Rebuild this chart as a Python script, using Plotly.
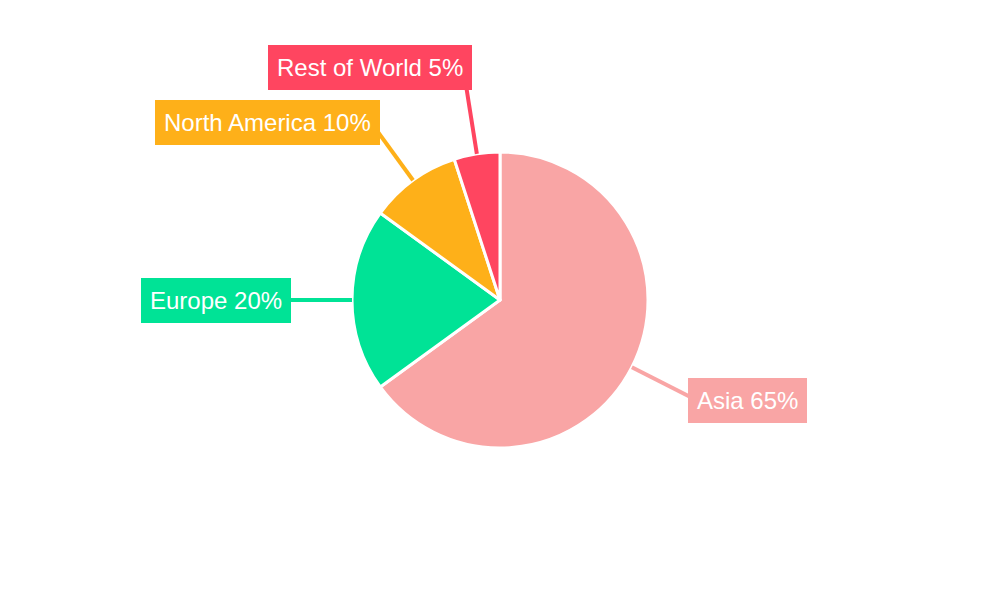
import math
import plotly.graph_objects as go

# ---- data ----
regions = ["Asia", "Europe", "North America", "Rest of World"]
shares = [65, 20, 10, 5]
colors = ["#F9A5A5", "#00E396", "#FEB019", "#FF4560"]

W, H = 1000, 600
OFF = 8          # page body margin offset
CX, CY, R = 500 - OFF, 300 - OFF, 148
R_END = 222      # leader line outer radius
R_LBL = 215      # label anchor radius
label_yshift = [-2.4, 0, 4, 20]

fig = go.Figure(go.Pie(
    labels=regions,
    values=shares,
    sort=False,
    direction="clockwise",
    rotation=0,
    marker=dict(colors=colors, line=dict(color="white", width=3)),
    textinfo="none",
    hoverinfo="label+percent",
    showlegend=False,
    domain=dict(x=[0, 2 * CX / W], y=[1 - (CY + R) / H, 1 - (CY - R) / H]),
))

total = sum(shares)
cum = 0
shapes = []
annotations = []
for i, (name, v, c) in enumerate(zip(regions, shares, colors)):
    mid = (cum + v / 2) / total * 2 * math.pi
    cum += v
    dx, dy = math.sin(mid), -math.cos(mid)   # screen direction (y down)
    x0, y0 = CX + R * dx, CY + R * dy
    x1, y1 = CX + R_END * dx, CY + R_END * dy
    shapes.append(dict(type="line", xref="paper", yref="paper",
                       x0=x0 / W, y0=1 - y0 / H, x1=x1 / W, y1=1 - y1 / H,
                       line=dict(color=c, width=4), layer="above"))
    lx, ly = CX + R_LBL * dx, CY + R_LBL * dy
    right = dx >= 0
    lx = lx - 4 if right else lx + 6
    pct = round(v / total * 100)
    annotations.append(dict(
        x=lx / W, y=1 - ly / H, xref="paper", yref="paper",
        xanchor="left" if right else "right", yanchor="middle",
        yshift=label_yshift[i],
        text=f"{name} {pct}%", showarrow=False,
        font=dict(family="Liberation Sans, Arial, sans-serif", size=24, color="white"),
        bgcolor=c, bordercolor=c, borderwidth=1, borderpad=8,
    ))

fig.update_layout(
    width=W, height=H,
    margin=dict(l=0, r=0, t=0, b=0),
    paper_bgcolor="white", plot_bgcolor="white",
    shapes=shapes, annotations=annotations,
)

fig.write_html("out.html")
